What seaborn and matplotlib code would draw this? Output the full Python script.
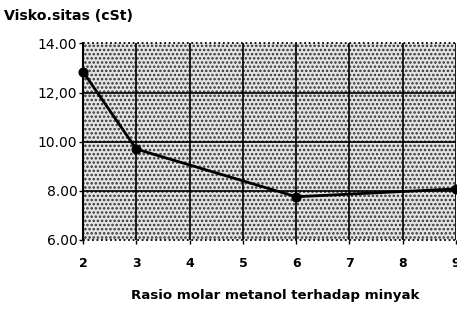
import matplotlib
matplotlib.use("Agg")
import matplotlib.pyplot as plt
import seaborn as sns
import pandas as pd
from matplotlib.patches import Rectangle

rasio = [2, 3, 6, 9]
viskositas = [12.85, 9.7, 7.76, 8.08]
x_ticks = [2, 3, 4, 5, 6, 7, 8, 9]
y_ticks = [6, 8, 10, 12, 14]
y_labels = ["6.00", "8.00", "10.00", "12,00", "14.00"]

sns.set_style("white")
plt.rcParams['font.family'] = ['DejaVu Sans']
plt.rcParams['hatch.linewidth'] = 1.2
for k in ['text.color', 'xtick.color', 'ytick.color', 'axes.labelcolor']:
    plt.rcParams[k] = 'black'

df = pd.DataFrame({"x": rasio, "y": viskositas})

fig = plt.figure(figsize=(4.57, 3.12), dpi=100)
ax = fig.add_axes([0.1816, 0.2308, 0.8164, 0.630])
ax.set_facecolor("white")
bg = Rectangle((0, 0), 1, 1, transform=ax.transAxes, facecolor="#e4e4e4",
               edgecolor="#333333", hatch="....", linewidth=0, zorder=0)
ax.add_patch(bg)

for xv in x_ticks:
    ax.axvline(xv, color="black", lw=1.2, zorder=1)
for yv in [8, 10, 12]:
    ax.axhline(yv, color="black", lw=1.2, zorder=1)
for yv in [6, 14]:
    ax.axhline(yv, color="black", lw=1.3, ls=(0, (1, 1.5)), zorder=1, clip_on=False)

sns.lineplot(data=df, x="x", y="y", ax=ax, color="black", lw=2.0,
             marker="o", markersize=6.5, markeredgecolor="black", zorder=3, clip_on=False)

ax.set_xlim(2, 9)
ax.set_ylim(6, 14)
ax.set_xticks(x_ticks)
ax.set_xticklabels([str(v) for v in x_ticks], fontweight="bold", fontsize=9)
ax.set_yticks(y_ticks)
ax.set_yticklabels(y_labels, fontsize=10)
ax.tick_params(axis="both", length=3, width=1, color="black", labelcolor="black", direction="out")
ax.tick_params(axis="y", pad=1)
ax.tick_params(axis="x", pad=9)
ax.tick_params(left=True, bottom=True)
for s in ["top", "right", "bottom"]:
    ax.spines[s].set_visible(False)
ax.spines["left"].set_color("black")
ax.spines["left"].set_linewidth(1.5)
ax.set_xlabel("")
ax.set_ylabel("")

fig.text(0.008, 0.937, "Visko.sitas (cSt)", fontsize=10.2, fontweight="bold", ha="left",
         va="baseline", color="black")
fig.text(0.602, 0.042, "Rasio molar metanol terhadap minyak", fontsize=9.6, fontweight="bold",
         ha="center", va="baseline", color="black")

fig.savefig("out.png", dpi=100)
